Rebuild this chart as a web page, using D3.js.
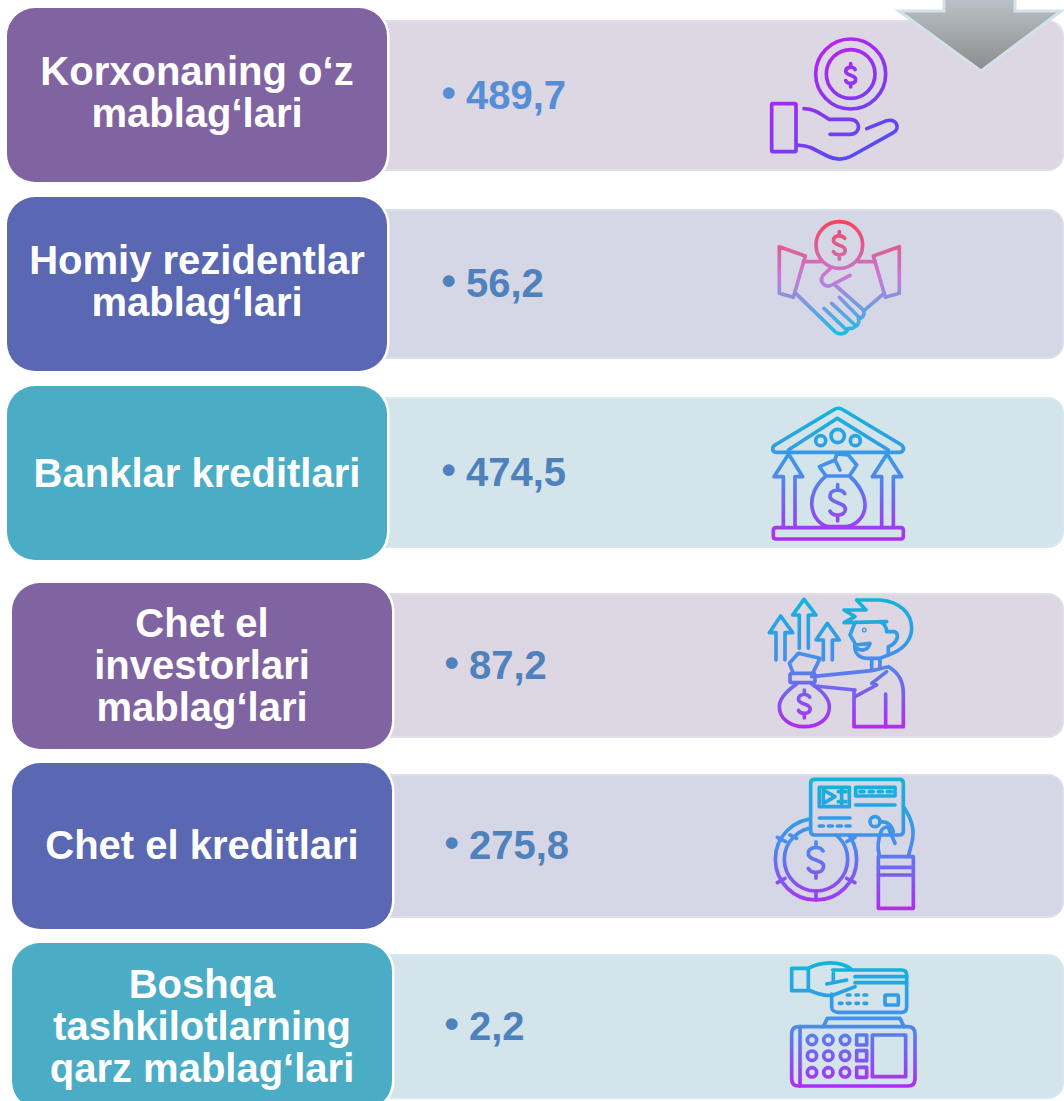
<!DOCTYPE html>
<meta charset="utf-8">
<style>
html, body { margin: 0; padding: 0; background: #fff; overflow: hidden; }
svg { display: block; }
text { font-family: "Liberation Sans", Arial, sans-serif; font-weight: bold; }
</style>
<body>
<svg width="1064" height="1101"></svg>
<script src="https://d3js.org/d3.v7.min.js"></script>
<script>

var categories = [
  "Korxonaning o‘z mablag‘lari",
  "Homiy rezidentlar mablag‘lari",
  "Banklar kreditlari",
  "Chet el investorlari mablag‘lari",
  "Chet el kreditlari",
  "Boshqa tashkilotlarning qarz mablag‘lari"
];
var labelLines = [
  ["Korxonaning o‘z", "mablag‘lari"],
  ["Homiy rezidentlar", "mablag‘lari"],
  ["Banklar kreditlari"],
  ["Chet el", "investorlari", "mablag‘lari"],
  ["Chet el kreditlari"],
  ["Boshqa", "tashkilotlarning", "qarz mablag‘lari"]
];
var values = [489.7, 56.2, 474.5, 87.2, 275.8, 2.2];

var svg = d3.select("svg");
var defs = svg.append("defs");

// rows are not evenly spaced in the picture, so the scales carry the layout
var boxTop = d3.scaleOrdinal(categories, [8, 197, 386, 583, 763, 943]);
var boxHeight = d3.scaleOrdinal(categories, [174, 174, 174, 166, 166, 166]);
var boxLeft = d3.scaleOrdinal(categories, [7, 7, 7, 12, 12, 12]);
var labelShift = d3.scaleOrdinal(categories, [11, 11, 14, 13, 13, 13.5]);
var valueLeft = d3.scaleOrdinal(categories, [466, 466, 466, 469, 469, 469]);
var panelTop = d3.scaleOrdinal(categories, [21, 210, 398, 594, 775, 955]);
var panelHeight = d3.scaleOrdinal(categories, [149, 148, 149, 143, 142, 143]);
var boxFill = d3.scaleOrdinal(categories, ["#8064a2", "#5a67b3", "#4bacc6", "#8064a2", "#5a67b3", "#4bacc6"]);
var panelFill = d3.scaleOrdinal(categories, ["#dcd7e3", "#d5d7e6", "#d3e4eb", "#dcd7e3", "#d5d7e6", "#d3e4eb"]);
var panelEdge = d3.scaleOrdinal(categories, ["#e2dee8", "#dcdeea", "#d9e8ee", "#e2dee8", "#dcdeea", "#d9e8ee"]);
var valueFill = d3.scaleOrdinal(categories, ["#558ed5", "#4f81bd", "#4f81bd", "#4f81bd", "#4f81bd", "#4f81bd"]);
var format = function(v) { return d3.format(".1f")(v).replace(".", ","); };

var rows = svg.selectAll("g.row")
  .data(categories)
  .enter().append("g")
  .attr("class", "row");

rows.append("rect")
  .attr("x", d => boxLeft(d) + 300)
  .attr("y", d => panelTop(d))
  .attr("width", d => 1064 - boxLeft(d) - 301)
  .attr("height", d => panelHeight(d))
  .attr("rx", 15)
  .attr("fill", d => panelFill(d))
  .attr("stroke", d => panelEdge(d))
  .attr("stroke-width", 2);

rows.append("rect")
  .attr("x", d => boxLeft(d))
  .attr("y", d => boxTop(d))
  .attr("width", 380)
  .attr("height", d => boxHeight(d))
  .attr("rx", 28)
  .attr("fill", d => boxFill(d))
  .attr("stroke", "#fff")
  .attr("stroke-width", 5)
  .attr("paint-order", "stroke");

rows.each(function(d, i) {
  var g = d3.select(this);
  var lines = labelLines[i];
  var mid = boxTop(d) + boxHeight(d) / 2;
  g.selectAll("text.label")
    .data(lines)
    .enter().append("text")
    .attr("class", "label")
    .attr("x", boxLeft(d) + 190)
    .attr("y", (t, j) => mid + labelShift(d) + (j - (lines.length - 1) / 2) * 42)
    .attr("text-anchor", "middle")
    .attr("font-size", 40)
    .attr("fill", "#fff")
    .text(t => t);

  var vy = panelTop(d) + panelHeight(d) / 2 + 13;
  g.append("text")
    .attr("x", valueLeft(d) - 24.5)
    .attr("y", vy - 2)
    .attr("font-size", 41)
    .attr("fill", valueFill(d))
    .text("•");
  g.append("text")
    .attr("x", valueLeft(d))
    .attr("y", vy)
    .attr("font-size", 40)
    .attr("fill", valueFill(d))
    .text(format(values[i]));
});

// small line drawing helpers, icons are drawn in 3x crop coordinates
function dollar(cx, cy, s) {
  var p = (x, y) => (cx + x * s) + "," + (cy + y * s);
  return "M" + p(10, -13) + "C" + p(6, -20) + " " + p(-11, -20) + " " + p(-11, -9) +
    "C" + p(-11, 1) + " " + p(11, -1) + " " + p(11, 9) +
    "C" + p(11, 20) + " " + p(-7, 20) + " " + p(-11, 12) +
    "M" + p(0, -26) + "L" + p(0, -18) + "M" + p(0, 18) + "L" + p(0, 26);
}
function circle(cx, cy, r) {
  return "M" + (cx - r) + "," + cy + "a" + r + "," + r + " 0 1,0 " + (2 * r) + ",0a" + r + "," + r + " 0 1,0 " + (-2 * r) + ",0Z";
}
function box(x0, y0, x1, y1, r) {
  r = r || 0;
  return "M" + (x0 + r) + "," + y0 + "L" + (x1 - r) + "," + y0 + "Q" + x1 + "," + y0 + " " + x1 + "," + (y0 + r) +
    "L" + x1 + "," + (y1 - r) + "Q" + x1 + "," + y1 + " " + (x1 - r) + "," + y1 +
    "L" + (x0 + r) + "," + y1 + "Q" + x0 + "," + y1 + " " + x0 + "," + (y1 - r) +
    "L" + x0 + "," + (y0 + r) + "Q" + x0 + "," + y0 + " " + (x0 + r) + "," + y0 + "Z";
}

var cool = [[0, "#10b6d8"], [0.5, "#4a8cec"], [1, "#b02cf2"]];

// line is [x1, y1, x2, y2] of the gradient
function drawIcon(id, ox, oy, line, stops, parts) {
  var grad = defs.append("linearGradient")
    .attr("id", id)
    .attr("gradientUnits", "userSpaceOnUse")
    .attr("x1", line[0]).attr("y1", line[1]).attr("x2", line[2]).attr("y2", line[3]);
  stops.forEach(s => grad.append("stop").attr("offset", s[0]).attr("stop-color", s[1]));
  var g = svg.append("g")
    .attr("transform", "translate(" + ox + "," + oy + ") scale(" + (1 / 3) + ")");
  g.selectAll("path")
    .data(parts)
    .enter().append("path")
    .attr("d", d => d.d || d)
    .attr("fill", d => d.fill || "none")
    .attr("stroke", d => d.fill ? "none" : "url(#" + id + ")")
    .attr("stroke-width", 11)
    .attr("stroke-linejoin", "round")
    .attr("stroke-linecap", "round");
}

drawIcon("hand", 740, 0, [200, 115, 420, 480], [[0, "#c61df2"], [1, "#4a50f0"]], [
  circle(332, 222, 105),
  circle(332, 222, 73),
  dollar(332, 226, 1.35),
  box(95, 311, 168, 455, 4),
  "M192,326C225,326 245,345 268,358L330,358C364,358 364,403 330,403L270,403",
  "M380,386L440,362C470,355 482,385 460,398L340,465C310,482 285,480 262,468L215,444C200,438 185,436 170,435"
]);

drawIcon("shake", 740, 0, [0, 665, 0, 1005], [[0, "#f5455c"], [0.5, "#c77ad8"], [1, "#16c0ea"]], [
  circle(298, 735, 70),
  dollar(298, 736, 1.6),
  "M118,740L196,768L160,892L118,880Z",
  "M478,740L400,768L436,892L478,880Z",
  "M190,785L240,785M355,785L405,785",
  "M330,826L275,855C255,865 235,845 250,825L275,802",
  "M165,878L285,995C300,1008 320,1000 325,985C340,988 362,975 355,955C372,955 378,935 365,925L285,855",
  "M252,925L320,990M275,910L345,975M298,892L360,955",
  "M372,932L432,880"
]);

drawIcon("bank", 740, 390, [0, 50, 0, 450], cool, [
  "M105,165L280,60C290,53 300,53 310,60L485,165C495,175 490,187 478,187L110,187C95,187 95,172 105,165Z",
  "M145,180L292,85L445,180",
  circle(242, 152, 15),
  circle(293, 138, 20),
  circle(346, 152, 15),
  "M130,410L130,260L102,260L146,192L188,260L165,260L165,410",
  "M425,410L425,260L397,260L441,192L485,260L460,260L460,410",
  "M258,258C225,285 212,320 216,350C220,385 245,410 270,410L320,410C350,405 375,380 375,345C375,315 355,280 328,258Z",
  "M258,258L238,230L285,210L300,240M285,210L290,192L325,195L350,225L328,258",
  dollar(293, 338, 2.1),
  box(100, 413, 490, 447, 8)
]);

drawIcon("investor", 740, 390, [0, 625, 0, 1010], cool, [
  "M108,810L108,728L88,728L122,678L158,728L135,728L135,810",
  "M178,775L178,675L158,675L192,628L228,675L205,675L205,775",
  "M250,810L250,750L228,750L262,700L298,750L277,750L277,810",
  "M350,630L420,630C480,635 515,670 515,715C515,750 490,780 445,795",
  "M350,630L378,660L312,660L345,680L312,698L440,695",
  "M345,698L330,735L345,760C340,790 360,805 380,805L420,805L445,795L445,770C470,760 480,735 465,725L440,725C440,710 430,698 420,695",
  "M345,765L390,760C385,780 365,785 350,775",
  circle(373, 720, 2),
  "M395,805L395,840M420,805L420,830",
  "M215,860L395,842L445,830C480,850 490,880 490,910L490,1010L342,1010L342,900",
  "M225,888L345,900",
  "M345,920L410,885L395,880L440,845",
  "M437,912L437,1010",
  "M170,882C130,910 118,935 118,950C118,985 150,1010 192,1010C240,1010 268,985 268,950C268,930 250,905 215,882",
  box(150, 850, 225, 878, 6),
  "M160,850L148,820L175,790L240,805L218,850",
  dollar(193, 942, 1.6)
]);

drawIcon("card", 740, 760, [0, 55, 0, 445], cool, [
  circle(228, 298, 122),
  circle(228, 298, 95),
  "M228,393L228,420M137,245L112,232M320,245L345,232M135,355L112,368M320,355L345,368M150,225L170,235",
  dollar(228, 300, 2.1),
  { d: box(212, 58, 490, 225, 12), fill: "#d5d7e6" },
  box(212, 58, 490, 225, 12),
  box(238, 82, 328, 140),
  "M250,90L250,130L285,110ZM295,95L318,95M295,125L318,125M305,85L305,135",
  box(347, 82, 465, 108),
  "M360,95L372,95M388,95L400,95M415,95L427,95M442,95L454,95",
  "M347,135L465,135M238,174L330,174",
  "M238,198L250,198M265,198L277,198M292,198L304,198M318,198L330,198",
  circle(405, 185, 15),
  "M490,140C515,175 525,215 515,250L505,290",
  "M418,285C410,260 415,235 425,210C440,195 445,200 450,215L465,250",
  "M420,185C445,185 455,195 460,215",
  box(415, 290, 520, 445),
  "M415,322L520,322M415,345L520,345"
]);

drawIcon("terminal", 740, 760, [0, 605, 0, 980], cool, [
  box(155, 625, 205, 692),
  "M205,625C240,605 300,600 335,628",
  "M205,690C240,705 260,710 280,705L345,680",
  "M260,672L320,660M280,640L280,665",
  "M278,630L485,630C495,630 500,635 500,645L500,740C500,750 495,757 485,757L295,757C282,757 275,750 275,740L275,702",
  "M345,650L500,650M345,668L500,668",
  "M322,705L330,705M348,705L355,705M372,705L380,705",
  "M298,730L306,730M322,730L330,730M348,730L355,730M372,730L380,730",
  box(435, 705, 475, 735, 4),
  box(155, 800, 525, 978, 22),
  "M180,800L180,978",
  "M250,800L262,775L480,775L492,800",
  circle(216, 840, 14), circle(265, 840, 14), circle(315, 840, 14),
  circle(216, 887, 14), circle(265, 887, 14), circle(315, 887, 14),
  circle(216, 937, 14), circle(265, 937, 14), circle(315, 937, 14),
  box(350, 825, 380, 855), box(350, 872, 380, 902), box(350, 922, 380, 952),
  box(397, 825, 497, 950)
]);

// the big arrow, cut off by the top edge
var arrowGrad = defs.append("linearGradient")
  .attr("id", "arrowGrad")
  .attr("x1", 0).attr("x2", 0).attr("y1", 0).attr("y2", 1);
arrowGrad.append("stop").attr("offset", 0).attr("stop-color", "#bcc5cb");
arrowGrad.append("stop").attr("offset", 1).attr("stop-color", "#8c8c8c");
svg.append("path")
  .attr("d", "M944,-5L944,11L899,11L981,71L1061,11L1015,11L1015,-5Z")
  .attr("fill", "url(#arrowGrad)")
  .attr("stroke", "#d3e2ea")
  .attr("stroke-width", 3);

</script>
</body>
